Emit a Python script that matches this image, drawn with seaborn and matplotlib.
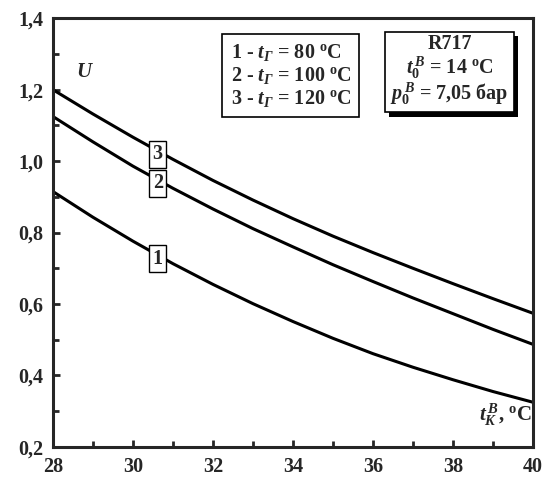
import numpy as np
import pandas as pd
import matplotlib
matplotlib.use("Agg")
import matplotlib.pyplot as plt
import matplotlib.patheffects as pe
import seaborn as sns
from matplotlib.ticker import MultipleLocator, FuncFormatter

# Data
t_k = [28, 29, 30, 31, 32, 33, 34, 35, 36, 37, 38, 39, 40]
u_80 = [0.915, 0.843, 0.776, 0.713, 0.655, 0.601, 0.551, 0.504, 0.461, 0.423, 0.388, 0.355, 0.325]
u_100 = [1.125, 1.054, 0.986, 0.924, 0.866, 0.811, 0.760, 0.710, 0.663, 0.617, 0.573, 0.529, 0.487]
u_120 = [1.200, 1.132, 1.067, 1.005, 0.946, 0.891, 0.839, 0.790, 0.744, 0.700, 0.657, 0.615, 0.574]
curve_labels = ["1", "2", "3"]
x_ticks = [28, 30, 32, 34, 36, 38, 40]
y_ticks = [0.2, 0.4, 0.6, 0.8, 1.0, 1.2, 1.4]

df = pd.DataFrame({
    "t": t_k * 3,
    "U": u_80 + u_100 + u_120,
    "curve": [c for c in curve_labels for _ in t_k],
})

sns.set_theme(style="ticks")
plt.rcParams.update({
    "font.family": ["Liberation Serif", "DejaVu Serif"],
    "font.weight": "bold",
    "mathtext.fontset": "custom",
    "mathtext.rm": "Liberation Serif:bold",
    "mathtext.it": "Liberation Serif:italic:bold",
    "mathtext.bf": "Liberation Serif:bold",
    "axes.linewidth": 2.2,
})

FS = 14.5

fig = plt.figure(figsize=(5.45, 4.79), dpi=100)
ax = fig.add_axes([0.097, 0.067, 0.881, 0.895])

sns.lineplot(data=df, x="t", y="U", hue="curve", palette=["black"] * 3,
             linewidth=2.2, legend=False, ax=ax)

ax.set_xlim(28, 40)
ax.set_ylim(0.2, 1.4)
ax.set_xticks(x_ticks)
ax.set_yticks(y_ticks)
ax.xaxis.set_minor_locator(MultipleLocator(1))
ax.yaxis.set_minor_locator(MultipleLocator(0.1))
ax.yaxis.set_major_formatter(FuncFormatter(lambda v, p: f"{v:.1f}".replace(".", ",")))
ax.tick_params(which="both", direction="in", width=2, labelsize=FS,
               top=False, right=False, pad=7)
ax.tick_params(which="major", length=5)
ax.tick_params(which="minor", length=4)
for lab in ax.get_xticklabels() + ax.get_yticklabels():
    lab.set_fontweight("bold")
ax.set_xlabel("")
ax.set_ylabel("")
for s in ax.spines.values():
    s.set_visible(True)
    s.set_linewidth(2.2)

# curve number boxes
x_lab = 30.62
for lab, ys in zip(curve_labels, [u_80, u_100, u_120]):
    ax.text(x_lab, np.interp(x_lab, t_k, ys) - 0.01, lab, ha="center", va="center",
            fontsize=FS, fontweight="bold",
            bbox=dict(boxstyle="square,pad=0.18", fc="white", ec="black", lw=1))

ax.text(0.067, 0.874, r"$U$", transform=ax.transAxes, ha="center", va="center",
        fontsize=FS + 0.5)
ax.text(0.997, 0.075, r"$t_{K}^{\,B}$, $^{\rm o}$C", transform=ax.transAxes,
        ha="right", va="center", fontsize=FS + 0.5)

leg1 = "1 - $t_{Г}$ = 80 $^{\\rm o}$C\n2 - $t_{Г}$ = 100 $^{\\rm o}$C\n3 - $t_{Г}$ = 120 $^{\\rm o}$C"
ax.text(0.37, 0.866, leg1, transform=ax.transAxes, ha="left", va="center",
        fontsize=FS, linespacing=1.12,
        bbox=dict(boxstyle="square,pad=0.4", fc="white", ec="black", lw=1.2))

leg2 = "R717\n$t_{0}^{\\,B}$ = 14 $^{\\rm o}$C\n$p_{0}^{\\,B}$ = 7,05 бар"
t2 = ax.text(0.826, 0.877, leg2, transform=ax.transAxes, ha="center", va="center",
             fontsize=FS, linespacing=1.0, multialignment="center",
             bbox=dict(boxstyle="square,pad=0.25", fc="white", ec="black", lw=1.2))
t2.get_bbox_patch().set_path_effects([
    pe.SimplePatchShadow(offset=(3, -3), shadow_rgbFace="black", alpha=1.0),
    pe.Normal(),
])

fig.savefig("out.png", dpi=100)
